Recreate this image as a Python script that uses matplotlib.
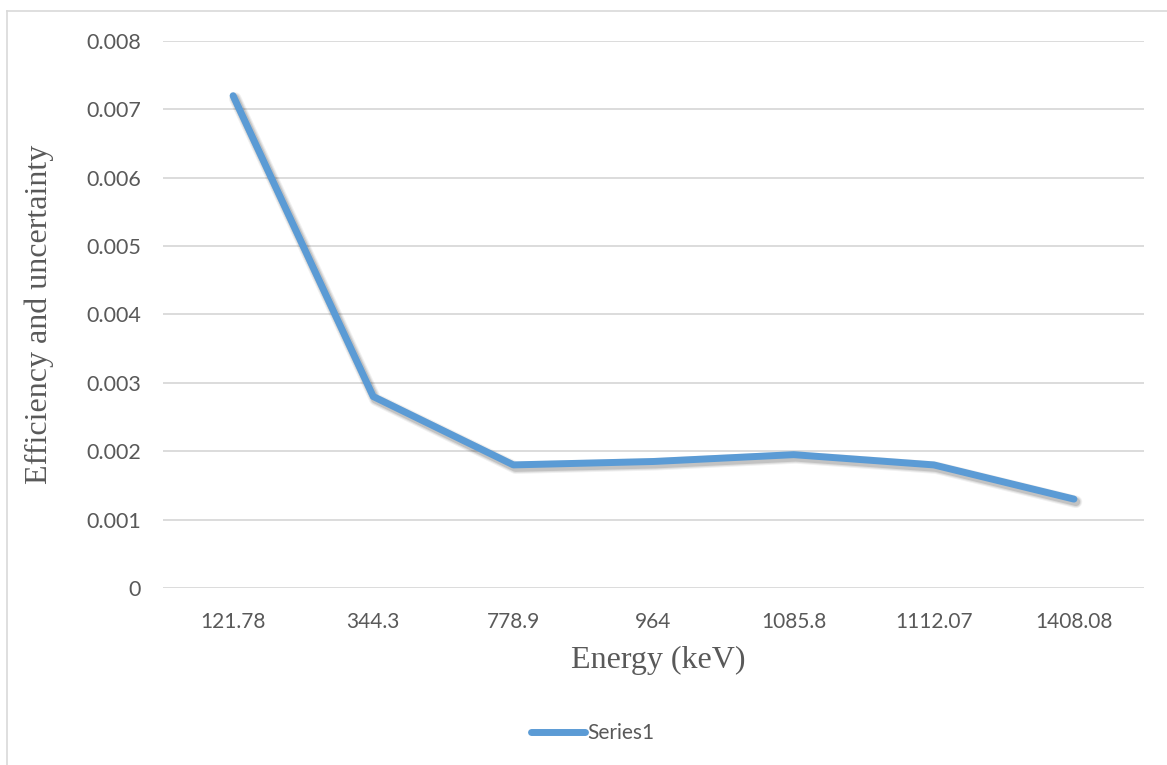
import matplotlib
matplotlib.use("Agg")
import matplotlib.pyplot as plt
import matplotlib.patheffects as pe
from matplotlib.lines import Line2D
import numpy as np

# --- data ---
energies = ["121.78", "344.3", "778.9", "964", "1085.8", "1112.07", "1408.08"]
efficiency = [0.0072, 0.0028, 0.0018, 0.00185, 0.00195, 0.0018, 0.0013]
y_ticks = [0, 0.001, 0.002, 0.003, 0.004, 0.005, 0.006, 0.007, 0.008]
y_tick_labels = ["0", "0.001", "0.002", "0.003", "0.004", "0.005", "0.006", "0.007", "0.008"]

LINE_COLOR = "#5B9BD5"
GRID_COLOR = "#D9D9D9"
TEXT_COLOR = "#595959"
TICK_FONT = "Lato"
LABEL_FONT = "Liberation Serif"

fig = plt.figure(figsize=(11.67, 7.65), dpi=100)
ax = fig.add_axes([0.1397, 0.2314, 0.8406, 0.715])

# soft drop shadow built from a few translucent offset strokes
shadow = [pe.SimpleLineShadow(offset=(1.5, -2.0), shadow_color="black",
                              alpha=a, linewidth=w)
          for a, w in [(0.06, 9.0), (0.08, 7.5), (0.12, 6.0)]]

x = np.arange(len(energies))
ax.plot(x, efficiency, color=LINE_COLOR, linewidth=5.0,
        solid_capstyle="round", solid_joinstyle="round",
        path_effects=shadow + [pe.Normal()], zorder=3)

ax.set_xlim(-0.5, len(energies) - 0.5)
ax.set_ylim(0, 0.008)
ax.set_xticks(x)
ax.set_xticklabels(energies, fontfamily=TICK_FONT, fontsize=15, color=TEXT_COLOR)
ax.set_yticks(y_ticks)
ax.set_yticklabels(y_tick_labels, fontfamily=TICK_FONT, fontsize=15.5, color=TEXT_COLOR)
ax.tick_params(axis="y", length=0, pad=16)
ax.tick_params(axis="x", length=0, pad=17)

ax.grid(axis="y", color=GRID_COLOR, linewidth=1.3)
ax.set_axisbelow(True)
for side in ["top", "right", "left", "bottom"]:
    ax.spines[side].set_visible(False)

ax.set_xlabel("Energy (keV)", fontfamily=LABEL_FONT, fontsize=23, color=TEXT_COLOR)
ax.set_ylabel("Efficiency and uncertainty", fontfamily=LABEL_FONT, fontsize=23,
              color=TEXT_COLOR)
ax.xaxis.set_label_coords(0.505, -0.105)
ax.yaxis.set_label_coords(-0.111, 0.5)

# legend below the plot area
handle = Line2D([], [], color=LINE_COLOR, linewidth=5.0, solid_capstyle="round")
fig.legend([handle], ["Series1"], loc="center", bbox_to_anchor=(0.508, 0.042),
           frameon=False, handlelength=2.6, handletextpad=0.1,
           prop={"family": TICK_FONT, "size": 15}, labelcolor=TEXT_COLOR)

# chart area border (top and left edges visible)
fig.add_artist(Line2D([7 / 1167, 7 / 1167], [0, 1 - 11 / 765], transform=fig.transFigure,
                      color=GRID_COLOR, linewidth=1.2))
fig.add_artist(Line2D([7 / 1167, 1], [1 - 11 / 765, 1 - 11 / 765], transform=fig.transFigure,
                      color=GRID_COLOR, linewidth=1.2))

fig.savefig("out.png", dpi=100, facecolor="white")
